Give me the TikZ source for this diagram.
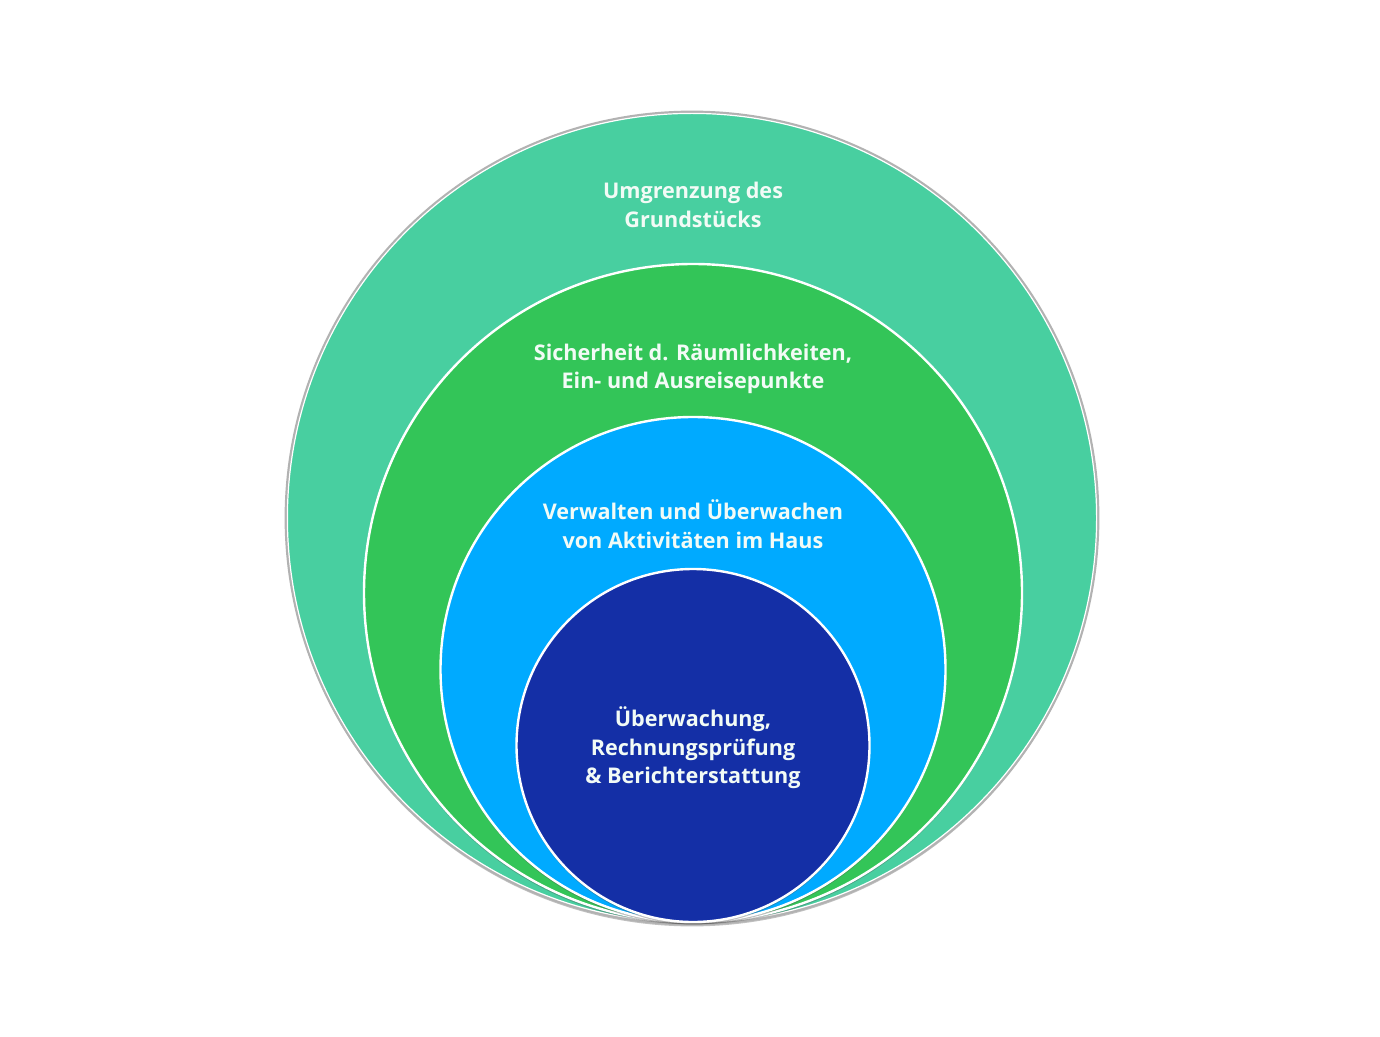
\documentclass[tikz,border=0pt]{standalone}
\usepackage{fontspec}
\setmainfont{Open Sans}
\usetikzlibrary{shadows}
\definecolor{cA}{HTML}{48CFA0}
\definecolor{cB}{HTML}{33C558}
\definecolor{cC}{HTML}{00AAFF}
\definecolor{cD}{HTML}{142FA6}
\definecolor{txt}{HTML}{F2FBF6}
\begin{document}
\begin{tikzpicture}[x=0.5pt,y=-0.5pt,
  ring/.style={circle, draw=white, line width=1.2pt, inner sep=0pt,
    drop shadow={shadow xshift=0pt, shadow yshift=-1.2pt, opacity=0.35, fill=black!70}},
  lbl/.style={text=txt, font=\bfseries\fontsize{10.8}{14.3}\selectfont, align=center}]
\useasboundingbox (0,0) rectangle (1380,1037);
\fill[white] (0,0) rectangle (1380,1037);
\node[ring, fill=cA, minimum size=406pt, draw=black!30, line width=1.4pt] (c1) at (692,518) {};
\node[circle, draw=white, line width=0.6pt, minimum size=404.6pt, inner sep=0pt] (c1w) at (692,518) {};
\node[ring, fill=cB, minimum size=329pt] (c2) at (693,593) {};
\node[ring, fill=cC, minimum size=252.5pt] (c3) at (693,669.5) {};
\node[ring, fill=cD, minimum size=176.5pt] (c4) at (693,745.5) {};
\node[lbl] (t1) at (693,205) {Umgrenzung des\\Grundstücks};
\node[lbl] (t2) at (693,369) {Sicherheit d. Räumlichkeiten,\\Ein- und Ausreisepunkte};
\node[lbl] (t3) at (693,524) {Verwalten und Überwachen\\von Aktivitäten im Haus};
\node[lbl] (t4) at (693,748) {Überwachung,\\Rechnungsprüfung\\\& Berichterstattung};
\end{tikzpicture}
\end{document}
